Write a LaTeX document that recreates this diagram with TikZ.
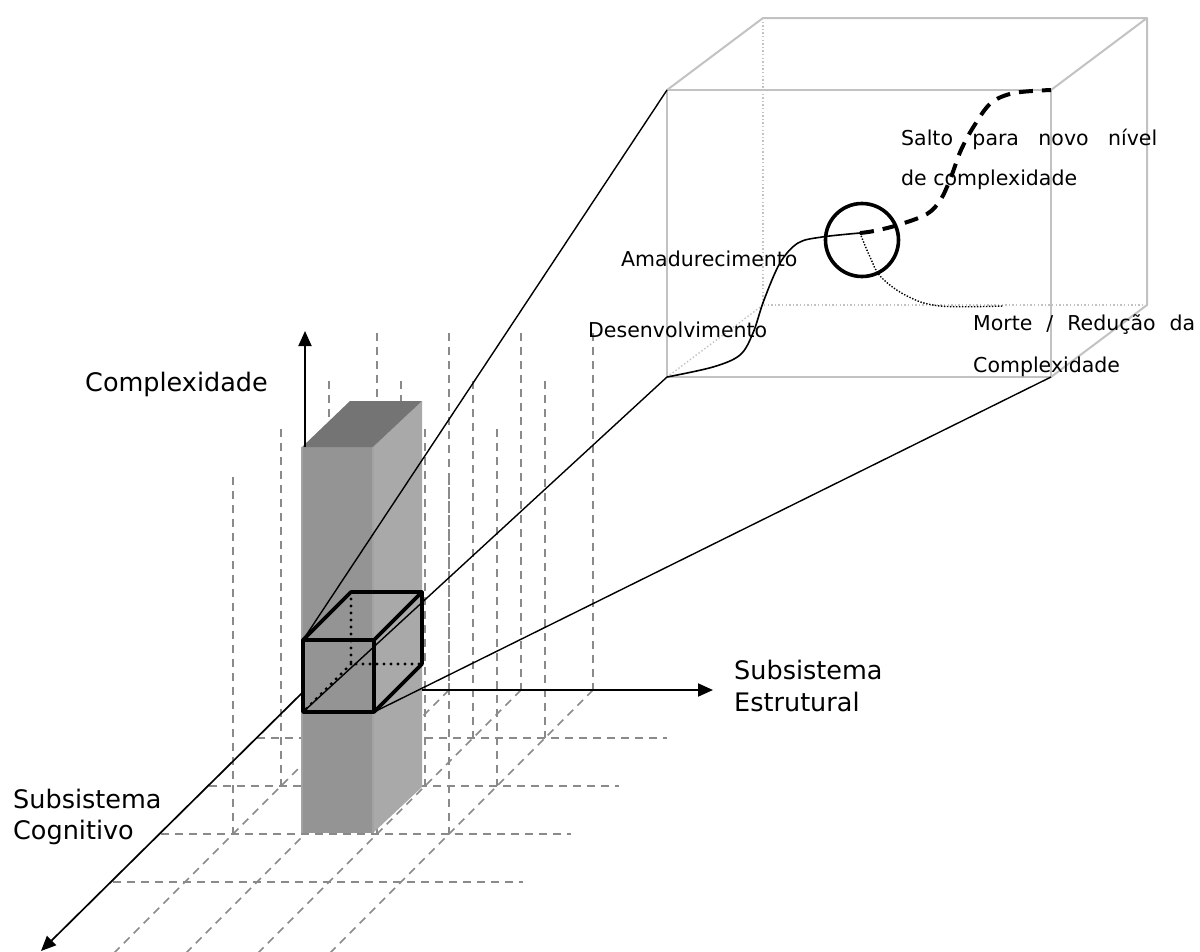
\documentclass[tikz,border=0pt]{standalone}
\usepackage{fontspec}
\setmainfont{DejaVu Sans}
\usetikzlibrary{arrows.meta}

\definecolor{gridgray}{HTML}{8A8A8A}
\definecolor{barfront}{HTML}{949494}
\definecolor{barside}{HTML}{A9A9A9}
\definecolor{bartop}{HTML}{747474}
\definecolor{baredge}{HTML}{A2A2A2}
\definecolor{cubegray}{HTML}{C2C2C2}

\begin{document}
\begin{tikzpicture}[x=1pt,y=-1pt,
  gridline/.style={draw=gridgray, line width=1.7pt, dash pattern=on 8pt off 6pt},
  axisline/.style={draw=black, line width=1.9pt, -{Triangle[length=15pt,width=13pt]}},
  projline/.style={draw=black, line width=1.4pt},
  boxedge/.style={draw=black, line width=3.6pt, line join=round, line cap=round},
  boxdots/.style={draw=black, line width=3.4pt, line cap=round, dash pattern=on 0pt off 7pt},
  cubeedge/.style={draw=cubegray, line width=2pt, line join=round},
  cubedots/.style={draw=cubegray, line width=1.4pt, dash pattern=on 1.4pt off 2.2pt},
  biglabel/.style={font=\fontsize{25.5}{30}\selectfont, inner sep=0pt, anchor=base west},
  smalllabel/.style={font=\fontsize{20.5}{24}\selectfont, inner sep=0pt, anchor=base west}]

\path[use as bounding box] (0,0) rectangle (1200,951);

% ---------- floor grid and vertical guides ----------
\begin{scope}
  \clip (0,0) rectangle (1200,951);
  % vertical guides rising from the grid points (columns i, depth rows d)
  \foreach \d in {0,1,2,3}{
    \foreach \i in {0,1,2,3}{
      \pgfmathsetmacro{\gx}{377+72*\i-48*\d}
      \draw[gridline] (\gx,{333+48*\d}) -- (\gx,{690+48*\d});
    }
  }
  % rows parallel to the structural axis
  \foreach \d in {1,2,3,4}{
    \draw[gridline] ({305-48*\d},{690+48*\d}) -- ({715-48*\d},{690+48*\d});
  }
  % lines parallel to the cognitive axis
  \foreach \gx in {377,449,521,593}{
    \draw[gridline] (\gx,690) -- ({\gx-270},960);
  }
\end{scope}

% ---------- the grey column ----------
\coordinate (barFTL) at (302,447);
\coordinate (barFTR) at (373,447);
\coordinate (barFBL) at (302,833);
\coordinate (barFBR) at (373,833);
\coordinate (barBTL) at (350,401);
\coordinate (barBTR) at (422,401);
\coordinate (barBBR) at (422,787);
\fill[barfront] (barFTL) rectangle (barFBR);
\fill[barside] (barFTR) -- (barBTR) -- (barBBR) -- (barFBR) -- cycle;
\fill[bartop] (barFTL) -- (barBTL) -- (barBTR) -- (barFTR) -- cycle;
\draw[baredge, line width=1.6pt] (barFTL) -- (barFBL);
\draw[baredge, line width=1.6pt] (barFTR) -- (barFBR);

% ---------- small cube on the column ----------
\coordinate (bFTL) at (303,640);
\coordinate (bFTR) at (374,640);
\coordinate (bFBL) at (303,712);
\coordinate (bFBR) at (374,712);
\coordinate (bBTL) at (351,592);
\coordinate (bBTR) at (422,592);
\coordinate (bBBL) at (351,664);
\coordinate (bBBR) at (422,664);

\draw[boxdots] (bBTL) -- (bBBL) -- (bBBR);
\draw[boxdots] (bBBL) -- (bFBL);

% ---------- axes ----------
\coordinate (zFoot) at (305,447);
\coordinate (zTip) at (305,331);
\coordinate (xFoot) at (422,690);
\coordinate (xTip) at (713,690);
\coordinate (yFoot) at (302,693);
\coordinate (yTip) at (41,951);
\draw[axisline] (zFoot) -- (zTip);
\draw[axisline] (xFoot) -- (xTip);
\draw[axisline, line width=1.7pt] (yFoot) -- (yTip);

% ---------- enlarged cube ----------
\coordinate (BFTL) at (667,90);
\coordinate (BFTR) at (1051,90);
\coordinate (BFBL) at (667,377);
\coordinate (BFBR) at (1051,377);
\coordinate (BBTL) at (763,18);
\coordinate (BBTR) at (1147,18);
\coordinate (BBBL) at (763,305);
\coordinate (BBBR) at (1147,305);

\draw[cubedots] (BBTL) -- (BBBL) -- (BBBR);
\draw[cubedots] (BBBL) -- (BFBL);
\draw[cubeedge] (BFTL) rectangle (BFBR);
\draw[cubeedge] (BFTL) -- (BBTL) -- (BBTR) -- (BFTR);
\draw[cubeedge] (BBTR) -- (BBBR) -- (BFBR);

% ---------- projection lines from small cube to enlarged cube ----------
\draw[projline] (bFTL) -- (BFTL);
\draw[projline] (bFBL) -- (BFBL);
\draw[projline] (bFBR) -- (BFBR);

% visible edges of the small cube
\draw[boxedge] (bFTL) rectangle (bFBR);
\draw[boxedge] (bFTL) -- (bBTL) -- (bBTR) -- (bFTR);
\draw[boxedge] (bBTR) -- (bBBR) -- (bFBR);

% ---------- trajectory inside the enlarged cube ----------
\coordinate (split) at (860,233);
\coordinate (deathEnd) at (1003,306);
\draw[black, line width=1.6pt] plot[smooth, tension=0.55] coordinates
  {(BFBL) (713,367) (740,355) (753,333) (764,300) (780,263) (798,243) (822,237) (split)};
\draw[black, line width=4pt, dash pattern=on 14pt off 9pt] plot[smooth, tension=0.55] coordinates
  {(split) (874,231) (898,225) (927,214) (941,199) (951,177) (961,150) (974,126) (991,103) (1014,93) (BFTR)};
\draw[black, line width=1.4pt, dash pattern=on 1.4pt off 1.6pt] plot[smooth, tension=0.6] coordinates
  {(split) (870,257) (881,277) (907,296) (940,306) (deathEnd)};
\node[circle, draw=black, line width=3.6pt, inner sep=0pt, minimum size=73pt] (jump) at (862,240) {};

% ---------- labels ----------
\node[biglabel] (lblComplex) at (85,391) {Complexidade};
\node[biglabel] (lblStructA) at (734,679) {Subsistema};
\node[biglabel] (lblStructB) at (734,711) {Estrutural};
\node[biglabel] (lblCognA) at (13,808) {Subsistema};
\node[biglabel] (lblCognB) at (13,839) {Cognitivo};

\node[smalllabel] (lblMature) at (621,266) {Amadurecimento};
\node[smalllabel] (lblGrowth) at (588,337) {Desenvolvimento};
\node[smalllabel] (lblJumpA) at (901,145) {\makebox[256pt][s]{Salto para novo nível}};
\node[smalllabel] (lblJumpB) at (901,185) {de complexidade};
\node[smalllabel] (lblDeathA) at (973,330) {\makebox[222pt][s]{Morte / Redução da}};
\node[smalllabel] (lblDeathB) at (973,372) {Complexidade};

\end{tikzpicture}
\end{document}
